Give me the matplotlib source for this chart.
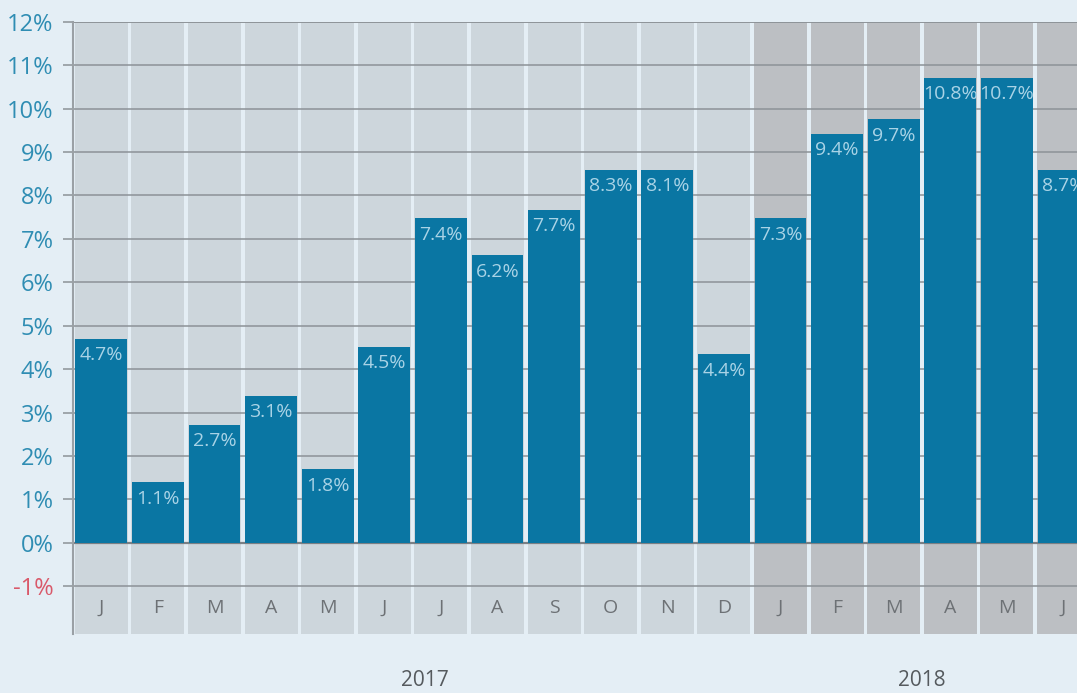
import numpy as np
import matplotlib
matplotlib.use("Agg")
import matplotlib.pyplot as plt

plt.rcParams['font.family'] = ['Open Sans', 'DejaVu Sans']

# monthly data, Jan 2017 .. Jun 2018
months = ["J", "F", "M", "A", "M", "J", "J", "A", "S", "O", "N", "D",
          "J", "F", "M", "A", "M", "J"]
years = [2017] * 12 + [2018] * 6
# bar heights as drawn in the picture (percent)
heights = [4.70, 1.40, 2.72, 3.39, 1.70, 4.52, 7.48, 6.62, 7.67, 8.59, 8.59, 4.35,
           7.48, 9.42, 9.75, 10.71, 10.71, 8.59]
# printed value labels
labels = ["4.7%", "1.1%", "2.7%", "3.1%", "1.8%", "4.5%", "7.4%", "6.2%", "7.7%",
          "8.3%", "8.1%", "4.4%", "7.3%", "9.4%", "9.7%", "10.8%", "10.7%", "8.7%"]
yticks = list(range(-1, 13))
year_labels = ["2017", "2018"]
year_pos = [5.72, 14.5]

BG = "#e4eef5"
BAR = "#0a76a3"
COL17 = "#cdd6dc"
COL18 = "#bcbfc3"
GRID = "#8c9297"

YMIN, YMAX = -2.1, 12.0
x = np.arange(len(months))

fig = plt.figure(figsize=(10.77, 6.93), dpi=100, facecolor=BG)
ax = fig.add_axes([0.0678, 0.0851, 1 - 0.0678, 0.9687 - 0.0851])
ax.set_facecolor(BG)

# column backgrounds
col_colors = [COL17 if y == 2017 else COL18 for y in years]
ax.bar(x, YMAX - YMIN, bottom=YMIN, width=0.935, color=col_colors, zorder=0)

# gridlines
for v in yticks + [12]:
    if v == 0:
        ax.axhline(v, color="#7b8085", lw=1.6, zorder=1)
    else:
        ax.axhline(v, color=GRID, lw=1.1, zorder=1)

# bars
ax.bar(x, heights, width=0.915, color=BAR, zorder=2)

for xi, h, lab in zip(x, heights, labels):
    ax.annotate(lab, xy=(xi, h), xytext=(0, -12), textcoords="offset points",
                ha="center", va="center", fontsize=14, color="#a9d3e6", zorder=3)

# month labels inside the bottom band
for xi, m in zip(x, months):
    ax.text(xi, -1.5, m, ha="center", va="center", fontsize=14,
            color="#6d7175", zorder=3)

for pos, yl in zip(year_pos, year_labels):
    ax.text(pos, -3.16, yl, ha="center", va="center", fontsize=15,
            color="#555a5e", clip_on=False)

ax.set_xlim(-0.5, -0.5 + (1077 - 73) / 56.6)
ax.set_ylim(YMIN, YMAX)

ax.set_yticks(yticks)
ax.set_yticklabels([f"{v}%" for v in yticks])
ax.tick_params(axis="y", length=7, width=1.1, color=GRID, pad=7,
               labelsize=17, labelcolor="#2f8db3")
ax.get_yticklabels()[0].set_color("#d9596a")
ax.set_xticks([])

for s in ["top", "right", "bottom"]:
    ax.spines[s].set_visible(False)
ax.spines["left"].set_color("#9aa0a5")
ax.spines["left"].set_linewidth(1.5)

fig.savefig("out.png", dpi=100, facecolor=BG)
